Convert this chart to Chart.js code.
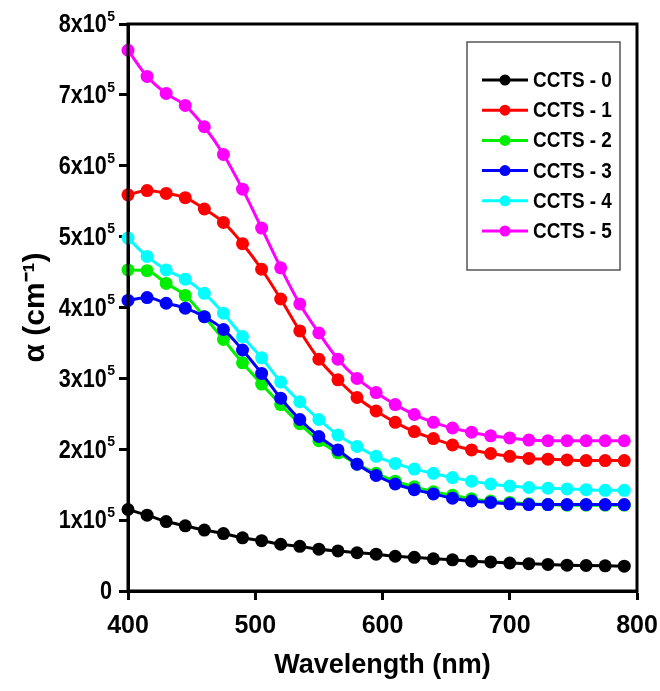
<!DOCTYPE html>
<html lang="en">
<head>
<meta charset="UTF-8">
<title>Absorption coefficient</title>
<style>
  html, body { margin: 0; padding: 0; background: #fff; }
  #wrap { width: 660px; height: 691px; }
</style>
</head>
<body>
<div id="wrap"><canvas id="chart"></canvas></div>

<script src="https://cdn.jsdelivr.net/npm/chart.js"></script>
<script>
// wavelength (nm) and alpha values in units of 10^5 cm^-1
var wavelength = [400, 415, 430, 445, 460, 475, 490, 505, 520, 535, 550, 565, 580, 595,
                  610, 625, 640, 655, 670, 685, 700, 715, 730, 745, 760, 775, 790];
var ccts0 = [1.15, 1.07, 0.98, 0.92, 0.86, 0.81, 0.75, 0.71, 0.66, 0.63, 0.59, 0.565, 0.54, 0.52,
             0.49, 0.475, 0.455, 0.44, 0.42, 0.41, 0.395, 0.385, 0.375, 0.365, 0.36, 0.355, 0.35];
var ccts1 = [5.59, 5.65, 5.61, 5.55, 5.39, 5.20, 4.90, 4.54, 4.12, 3.67, 3.27, 2.98, 2.73, 2.54,
             2.38, 2.25, 2.15, 2.06, 1.99, 1.94, 1.90, 1.87, 1.86, 1.85, 1.84, 1.84, 1.84];
var ccts2 = [4.53, 4.52, 4.34, 4.17, 3.87, 3.55, 3.22, 2.92, 2.63, 2.36, 2.12, 1.95, 1.79, 1.66,
             1.55, 1.47, 1.40, 1.35, 1.30, 1.27, 1.25, 1.23, 1.22, 1.21, 1.21, 1.21, 1.21];
var ccts3 = [4.10, 4.14, 4.06, 3.99, 3.87, 3.69, 3.40, 3.07, 2.72, 2.42, 2.18, 1.99, 1.79, 1.63,
             1.51, 1.43, 1.37, 1.31, 1.27, 1.25, 1.23, 1.22, 1.22, 1.22, 1.22, 1.22, 1.22];
var ccts4 = [4.98, 4.72, 4.53, 4.40, 4.20, 3.92, 3.59, 3.29, 2.95, 2.67, 2.42, 2.20, 2.04, 1.90,
             1.80, 1.72, 1.66, 1.60, 1.55, 1.51, 1.48, 1.46, 1.45, 1.44, 1.43, 1.42, 1.42];
var ccts5 = [7.63, 7.26, 7.02, 6.85, 6.55, 6.16, 5.67, 5.12, 4.56, 4.05, 3.64, 3.27, 3.00, 2.80,
             2.63, 2.49, 2.38, 2.30, 2.24, 2.19, 2.16, 2.13, 2.12, 2.12, 2.12, 2.12, 2.12];

var seriesNames = ['CCTS - 0', 'CCTS - 1', 'CCTS - 2', 'CCTS - 3', 'CCTS - 4', 'CCTS - 5'];
var seriesColors = ['#000000', '#ff0000', '#00ee00', '#0000ff', '#00ffff', '#ff00ff'];
// y tick labels: mantissa text + exponent drawn as superscript
var yTickBase = ['0', '1x10', '2x10', '3x10', '4x10', '5x10', '6x10', '7x10', '8x10'];
var yTickExp = ['', '5', '5', '5', '5', '5', '5', '5', '5'];

var FONT = "'Liberation Sans', Arial, sans-serif";

var allSeries = [ccts0, ccts1, ccts2, ccts3, ccts4, ccts5];
var datasets = allSeries.map(function(values, i) {
    return {
        label: seriesNames[i],
        data: values.map(function(v, j) { return { x: wavelength[j], y: v }; }),
        borderColor: seriesColors[i],
        backgroundColor: seriesColors[i],
        borderWidth: 3,
        pointRadius: 6.5,
        pointBorderWidth: 0,
        cubicInterpolationMode: 'monotone',
        order: 5 - i,   // later series drawn on top
        clip: false
    };
});

// box frame, y tick labels with superscript, legend inside the plot
var framePlugin = {
    id: 'frame',
    afterDatasetsDraw: function(chart) {
        var ctx = chart.ctx, a = chart.chartArea, yScale = chart.scales.y;
        ctx.save();
        ctx.strokeStyle = '#000';
        ctx.lineWidth = 3;
        ctx.strokeRect(a.left, a.top, a.right - a.left, a.bottom - a.top);

        // y tick labels
        ctx.fillStyle = '#000';
        yTickBase.forEach(function(txt, i) {
            var y = yScale.getPixelForValue(i);
            var right = 115;
            if (yTickExp[i]) {
                ctx.font = 'bold 14px ' + FONT;
                var ew = ctx.measureText(yTickExp[i]).width;
                ctx.textAlign = 'right';
                ctx.textBaseline = 'top';
                ctx.fillText(yTickExp[i], right, y - 14);
                right -= ew + 0.5;
            } else {
                right = 112;
            }
            ctx.font = 'bold 24px ' + FONT;
            ctx.textAlign = 'right';
            ctx.textBaseline = 'middle';
            ctx.save();
            ctx.translate(right, y + 1);
            ctx.scale(0.9, 1.1);
            ctx.fillText(txt, 0, 0);
            ctx.restore();
        });

        // legend
        var lx = a.right - 170;
        ctx.textAlign = 'left';
        ctx.fillStyle = '#fff';
        ctx.fillRect(lx, 42, 153, 228);
        ctx.strokeStyle = '#555';
        ctx.lineWidth = 1.5;
        ctx.strokeRect(lx, 42, 153, 228);
        ctx.font = 'bold 22px ' + FONT;
        ctx.textBaseline = 'middle';
        chart.data.datasets.forEach(function(ds, i) {
            var y = 80 + i * 30.2;
            ctx.strokeStyle = ds.borderColor;
            ctx.lineWidth = 3;
            ctx.beginPath();
            ctx.moveTo(lx + 15, y);
            ctx.lineTo(lx + 61, y);
            ctx.stroke();
            ctx.fillStyle = ds.borderColor;
            ctx.beginPath();
            ctx.arc(lx + 38, y, 5.5, 0, Math.PI * 2);
            ctx.fill();
            ctx.fillStyle = '#000';
            ctx.save();
            ctx.translate(lx + 66, y + 1);
            ctx.scale(0.86, 1);
            ctx.fillText(ds.label, 0, 0);
            ctx.restore();
        });
        ctx.restore();
    }
};

var ctx = document.getElementById('chart').getContext('2d');
var myChart = new Chart(ctx, {
    type: 'line',
    data: { datasets: datasets },
    options: {
        responsive: true,
        maintainAspectRatio: false,
        animation: false,
        layout: { padding: { top: 24, right: 23, left: 0, bottom: 0 } },
        plugins: {
            legend: { display: false },
            tooltip: { enabled: false }
        },
        scales: {
            x: {
                type: 'linear',
                min: 400,
                max: 800,
                afterFit: function(scale) {
                    scale.height = 100;
                    scale.paddingLeft = 0;
                    scale.paddingRight = 0;
                },
                ticks: {
                    stepSize: 100,
                    color: '#000',
                    padding: 11,
                    maxRotation: 0,
                    font: { family: FONT, size: 25, weight: 'bold' }
                },
                grid: { drawOnChartArea: false, tickLength: 9, tickWidth: 3, tickColor: '#000' },
                border: { color: '#000', width: 3 },
                title: {
                    display: true,
                    text: 'Wavelength (nm)',
                    color: '#000',
                    padding: { top: 0, bottom: 9 },
                    font: { family: FONT, size: 27, weight: 'bold' }
                }
            },
            y: {
                min: 0,
                max: 8,
                afterFit: function(scale) {
                    scale.width = 128;
                    scale.paddingTop = 0;
                    scale.paddingBottom = 0;
                },
                ticks: {
                    stepSize: 1,
                    display: false
                },
                grid: { drawOnChartArea: false, tickLength: 9, tickWidth: 3, tickColor: '#000' },
                border: { color: '#000', width: 3 },
                title: {
                    display: true,
                    text: '\u03b1 (cm\u207b\u00b9)',
                    color: '#000',
                    padding: { top: 18, bottom: 0 },
                    font: { family: FONT, size: 30, weight: 'bold' }
                }
            }
        }
    },
    plugins: [framePlugin]
});
</script>
</body>
</html>
